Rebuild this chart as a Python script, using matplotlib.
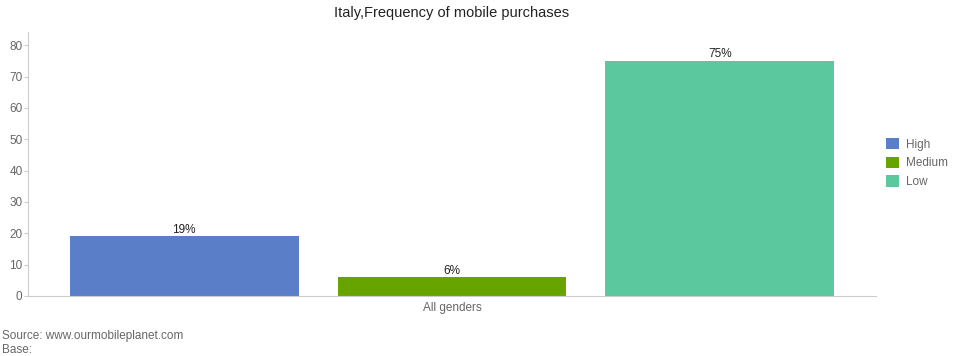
import numpy as np
import matplotlib.pyplot as plt

plt.rcParams["font.family"] = ["Liberation Sans", "DejaVu Sans"]

title = "Italy,Frequency of mobile purchases"
category = "All genders"
series = ["High", "Medium", "Low"]
values = [19, 6, 75]
labels = ["19%", "6%", "75%"]
colors = ["#5b7ec9", "#67a400", "#5bc89e"]

fig = plt.figure(figsize=(9.58, 3.56), dpi=100)
ax = fig.add_axes([28 / 958, 60 / 356, 848 / 958, 264 / 356])

offsets = [-0.316, 0.0, 0.316]
width = 0.27
handles = []
for name, val, lab, col, off in zip(series, values, labels, colors, offsets):
    b = ax.bar(off, val, width=width, color=col, label=name)
    handles.append(b)
    ax.text(off, val + 0.2, lab, ha="center", va="bottom", fontsize=8.5, color="#222222")

ax.set_xlim(-0.5, 0.5)
ax.set_ylim(0, 84.2)
ax.set_yticks(np.arange(0, 81, 10))
ax.set_xticks([0])
ax.set_xticklabels([category])
ax.tick_params(axis="y", colors="#cccccc", labelcolor="#666666", labelsize=8.5, length=3, pad=1)
ax.tick_params(axis="x", length=0, labelcolor="#666666", labelsize=8.5, pad=4)
for s in ["top", "right"]:
    ax.spines[s].set_visible(False)
for s in ["left", "bottom"]:
    ax.spines[s].set_color("#cccccc")

fig.text(452 / 958, 1 - 13 / 356, title, ha="center", va="center", fontsize=10.5, color="#222222")

fig.legend(handles=handles, labels=series, loc="upper left", bbox_to_anchor=(886 / 958, 1 - 138 / 356),
           frameon=False, fontsize=8.5, handlelength=1.1, handleheight=1.1, handletextpad=0.6,
           labelspacing=0.5, labelcolor="#666666", borderaxespad=0, borderpad=0)

fig.text(2 / 958, 1 - 336 / 356, "Source: www.ourmobileplanet.com", ha="left", va="center", fontsize=8.5, color="#666666")
fig.text(2 / 958, 1 - 350 / 356, "Base:", ha="left", va="center", fontsize=8.5, color="#666666")

plt.savefig("out.png", dpi=100)
